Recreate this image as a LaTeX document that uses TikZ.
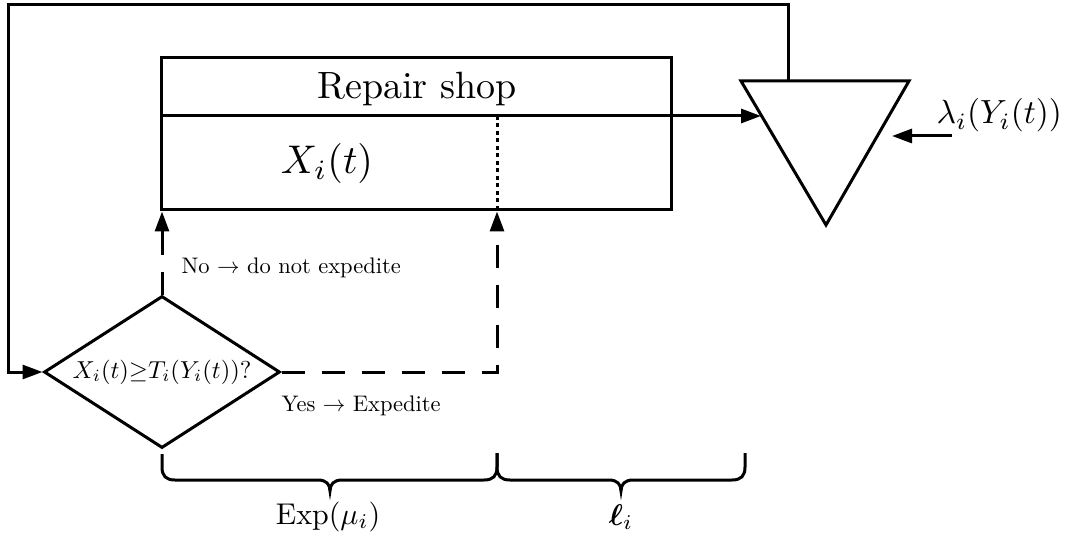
\RequirePackage{fix-cm}
\documentclass[tikz,border=0pt]{standalone}
\usepackage{graphicx}
\usepackage{amsmath,bm}
\usetikzlibrary{arrows.meta,shapes.geometric}
\newcommand\tsc[2]{\scalebox{#1}{\fontsize{10}{12}\selectfont #2}}
\begin{document}
\begin{tikzpicture}[x=1pt,y=-1pt,
  line width=3pt,
  tip/.style={-{Triangle[length=20pt,width=14pt]}},
  dashline/.style={dash pattern=on 23pt off 17pt},
  dotline/.style={dash pattern=on 4pt off 3.5pt},
  lbl/.style={inner sep=0pt},
]
\useasboundingbox (0,0) rectangle (1067,537);
% repair shop box
\node[draw, minimum width=510pt, minimum height=152pt, inner sep=0pt] (shop) at (416,134) {};
\node[lbl, anchor=base] (title) at (417,99) {\tsc{3.8}{Repair shop}};
\node[lbl, anchor=base] (xit) at (327,174) {\tsc{4.0}{$X_i(t)$}};
% triangle
\coordinate (tA) at (741,81);
\coordinate (tB) at (909,81);
\coordinate (tC) at (826,225);
\draw (tA) -- (tB) -- (tC) -- cycle;
% divider line with arrow into triangle
\coordinate (tin) at (761,116);
\draw[tip] (shop.west |- tin) -- (tin);
% dotted divider
\coordinate (dtop) at (497,116);
\draw[dotline] (dtop) -- (dtop |- shop.south);
% decision diamond
\node[draw, diamond, aspect=1.55, minimum width=236pt, minimum height=152pt, inner sep=0pt] (dec) at (162,372)
  {\tsc{2.45}{$X_i(t){\geq}T_i(Y_i(t))?$}};
% feedback loop
\coordinate (fb) at (788,81);
\coordinate (c1) at (788,5);
\coordinate (c2) at (8,5);
\draw[tip] (fb) -- (c1) -- (c2) -- (c2 |- dec.west) -- (dec.west);
% dashed branches
\draw[tip,dashline] (dec.north) -- (dec.north |- shop.south);
\coordinate (yc) at (dtop |- dec.east);
\draw[tip,dashline] (dec.east) -- (yc) -- (yc |- shop.south);
\node[lbl, anchor=base west] (no) at (180,273) {\tsc{2.25}{No $\rightarrow$ do not expedite}};
\node[lbl, anchor=base west] (yes) at (280,411) {\tsc{2.25}{Yes $\rightarrow$ Expedite}};
% lambda input
\coordinate (lamtail) at (952,136);
\coordinate (lamtip) at (892,136);
\draw[tip] (lamtail) -- (lamtip);
\node[lbl, anchor=base west] (lam) at (935,124) {\tsc{3.35}{$\lambda_i(Y_i(t))$}};
% braces
\draw (162,454) -- (162,467) .. controls (162,476) and (166,480) .. (175,480) -- (318,480)
  .. controls (326,480) and (330,484) .. (330,491) .. controls (330,484) and (334,480) .. (342,480)
  -- (484,480) .. controls (493,480) and (497,476) .. (497,467) -- (497,453);
\draw (497,453) -- (497,467) .. controls (497,476) and (501,480) .. (510,480) -- (609,480)
  .. controls (617,480) and (621,484) .. (621,491) .. controls (621,484) and (625,480) .. (633,480)
  -- (732,480) .. controls (741,480) and (745,476) .. (745,467) -- (745,453);
\node[lbl, anchor=base] (exp) at (328,524) {\tsc{3.0}{Exp$(\mu_i)$}};
\node[lbl, anchor=base] (ell) at (621,525) {\tsc{3.0}{$\bm{\ell}_i$}};
\end{tikzpicture}
\end{document}
